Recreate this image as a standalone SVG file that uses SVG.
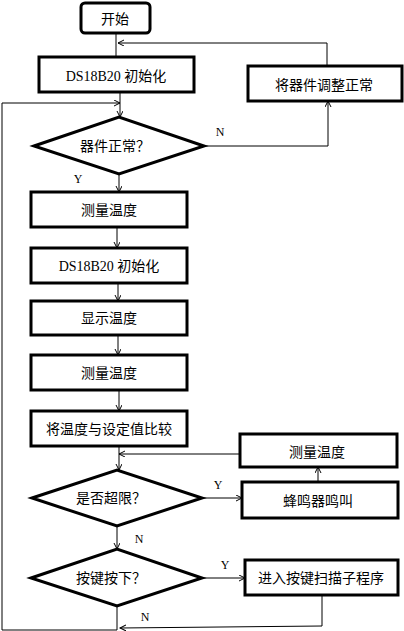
<svg xmlns="http://www.w3.org/2000/svg" width="404" height="631" viewBox="0 0 404 631">
<style>
.box{fill:#fff;stroke:#000;stroke-width:3}
.c{fill:none;stroke:#000;stroke-width:1}
.t{font-family:"Liberation Serif","Noto Sans CJK SC",serif;font-size:14px;fill:#000;text-anchor:middle;dominant-baseline:central}
.l{font-family:"Liberation Serif",serif;font-size:12px;fill:#000;text-anchor:middle;dominant-baseline:central}
</style>
<defs>
<marker id="a" markerUnits="userSpaceOnUse" markerWidth="8" markerHeight="8" refX="6" refY="3" orient="auto">
<path d="M0,0 L6,3 L0,6" fill="none" stroke="#000" stroke-width="1"/>
</marker>
</defs>
<rect width="404" height="631" fill="#fff"/>
<g id="connectors">
<path class="c" d="M116,34 V57"/>
<path class="c" d="M327,66 V43 H118" marker-end="url(#a)"/>
<path class="c" d="M120,92 V117" marker-end="url(#a)"/>
<path class="c" d="M117,606 V630 H2 V103 H120" marker-end="url(#a)"/>
<path class="c" d="M204,146 H328 V101" marker-end="url(#a)"/>
<path class="c" d="M119,174 V192" marker-end="url(#a)"/>
<path class="c" d="M117,227 V248" marker-end="url(#a)"/>
<path class="c" d="M118,283 V301" marker-end="url(#a)"/>
<path class="c" d="M118,335 V355" marker-end="url(#a)"/>
<path class="c" d="M119,390 V411" marker-end="url(#a)"/>
<path class="c" d="M119,446 V470" marker-end="url(#a)"/>
<path class="c" d="M240,454 H119" marker-end="url(#a)"/>
<path class="c" d="M202,498 H242" marker-end="url(#a)"/>
<path class="c" d="M318,482 V467" marker-end="url(#a)"/>
<path class="c" d="M117,526 V549" marker-end="url(#a)"/>
<path class="c" d="M202,578 H245" marker-end="url(#a)"/>
<path class="c" d="M322,595 V626 L120,628" marker-end="url(#a)"/>
<text class="l" x="220" y="132">N</text>
<text class="l" x="78" y="179">Y</text>
<text class="l" x="218" y="485">Y</text>
<text class="l" x="139" y="539">N</text>
<text class="l" x="225" y="565">Y</text>
<text class="l" x="145" y="617">N</text>
</g>
<g id="start"><rect class="box" x="81" y="3" width="69" height="30" rx="4"/><text class="t" x="115" y="19">开始</text></g>
<g id="init1"><rect class="box" x="39" y="57" width="155" height="35"/><text class="t" x="116" y="76">DS18B20 初始化</text></g>
<g id="adjust"><rect class="box" x="248" y="66" width="154" height="35"/><text class="t" x="324" y="85">将器件调整正常</text></g>
<g id="check"><polygon class="box" points="34,146 119,117 204,146 119,174"/><text class="t" x="115" y="146">器件正常？</text></g>
<g id="measure1"><rect class="box" x="31" y="192" width="156" height="35"/><text class="t" x="109" y="210">测量温度</text></g>
<g id="init2"><rect class="box" x="31" y="248" width="156" height="35"/><text class="t" x="109" y="266">DS18B20 初始化</text></g>
<g id="display"><rect class="box" x="31" y="301" width="156" height="34"/><text class="t" x="109" y="318">显示温度</text></g>
<g id="measure2"><rect class="box" x="31" y="355" width="156" height="35"/><text class="t" x="109" y="373">测量温度</text></g>
<g id="compare"><rect class="box" x="31" y="411" width="156" height="35"/><text class="t" x="109" y="429">将温度与设定值比较</text></g>
<g id="measure3"><rect class="box" x="240" y="434" width="157" height="33"/><text class="t" x="317" y="452">测量温度</text></g>
<g id="over"><polygon class="box" points="32,498 117,470 202,498 117,526"/><text class="t" x="111" y="498">是否超限？</text></g>
<g id="buzzer"><rect class="box" x="242" y="482" width="156" height="36"/><text class="t" x="318" y="501">蜂鸣器鸣叫</text></g>
<g id="key"><polygon class="box" points="31,578 117,549 202,578 117,606"/><text class="t" x="111" y="578">按键按下？</text></g>
<g id="scan"><rect class="box" x="245" y="560" width="153" height="35"/><text class="t" x="321" y="578">进入按键扫描子程序</text></g>
</svg>
